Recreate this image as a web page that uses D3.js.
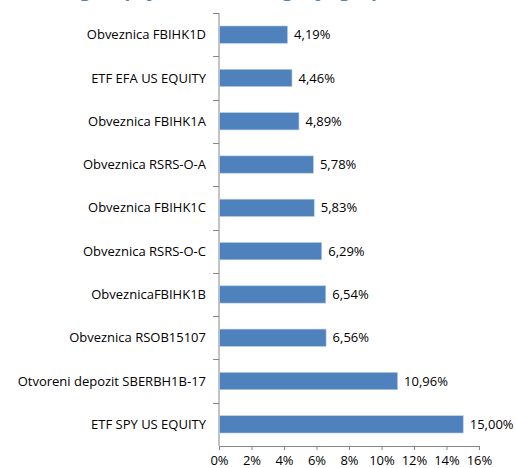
<!DOCTYPE html>
<html>
<head>
<meta charset="utf-8">
<script src="https://cdn.jsdelivr.net/npm/d3@7"></script>
<style>
  body { margin: 0; background: #fff; }
  svg { display: block; font-family: "Open Sans", "Liberation Sans", sans-serif; }
</style>
</head>
<body>
<div id="chart"></div>
<script>
const categories = [
    "Obveznica FBIHK1D",
    "ETF EFA US EQUITY",
    "Obveznica FBIHK1A",
    "Obveznica RSRS-O-A",
    "Obveznica FBIHK1C",
    "Obveznica RSRS-O-C",
    "ObveznicaFBIHK1B",
    "Obveznica RSOB15107",
    "Otvoreni depozit SBERBH1B-17",
    "ETF SPY US EQUITY"
];
const values = [4.19, 4.46, 4.89, 5.78, 5.83, 6.29, 6.54, 6.56, 10.96, 15.00];
const xTicks = [0, 2, 4, 6, 8, 10, 12, 14, 16];
const title = "Pregled pojedinačnih ulaganja grupe (učešće)";

const W = 516, H = 468;
const margin = { top: 13, right: 37, bottom: 22, left: 219 };
const width = W - margin.left - margin.right,
      height = H - margin.top - margin.bottom;

const root = d3.select("#chart").append("svg")
    .attr("width", W)
    .attr("height", H);

// title sits mostly above the visible area, only descenders show
root.append("text")
    .attr("x", 262)
    .attr("y", -4)
    .attr("text-anchor", "middle")
    .attr("fill", "#4F81BD")
    .style("font-weight", "bold")
    .style("font-size", "19px")
    .text(title);

const svg = root.append("g")
    .attr("transform", `translate(${margin.left}, ${margin.top})`);

let x = d3.scaleLinear()
    .domain([0, 16])
    .range([0, width]);

let y = d3.scaleBand()
    .domain(categories)
    .range([0, height])
    .paddingInner(0.6)
    .paddingOuter(0.3);

// band boundaries for the category ticks
let yb = d3.scaleBand().domain(categories).range([0, height]);

/* X-axis */
const xAxis = svg.append("g")
    .attr("transform", `translate(0, ${height})`)
    .call(d3.axisBottom(x).tickValues(xTicks).tickFormat(d => d + "%").tickSize(4).tickSizeOuter(0));
xAxis.select(".domain").attr("stroke", "#868686");
xAxis.selectAll(".tick line").attr("stroke", "#868686");
xAxis.selectAll("text")
    .attr("fill", "#000")
    .attr("dy", "0.9em")
    .style("font-size", "13px")
    .style("font-family", "Open Sans, sans-serif");

/* Y-axis */
svg.append("line")
    .attr("x1", 0).attr("x2", 0)
    .attr("y1", 0).attr("y2", height)
    .attr("stroke", "#868686");
svg.selectAll(".ytick")
    .data(categories)
    .enter()
    .append("line")
    .attr("x1", -6).attr("x2", 0)
    .attr("y1", d => Math.round(yb(d)) + 0.5)
    .attr("y2", d => Math.round(yb(d)) + 0.5)
    .attr("stroke", "#868686");

svg.selectAll(".cat")
    .data(categories)
    .enter()
    .append("text")
    .attr("x", -13)
    .attr("y", d => yb(d) + yb.bandwidth() / 2)
    .attr("dy", "0.35em")
    .attr("text-anchor", "end")
    .style("font-size", "13px")
    .attr("fill", "#000")
    .text(d => d);

svg.selectAll(".bar")
    .data(values)
    .enter()
    .append("rect")
    .attr("x", 0.5)
    .attr("y", (d, i) => y(categories[i]))
    .attr("width", d => x(d))
    .attr("height", y.bandwidth())
    .attr("fill", "#4F81BD")
    .attr("stroke", "#B9CDE5")
    .attr("stroke-width", 0.6);

svg.selectAll(".val")
    .data(values)
    .enter()
    .append("text")
    .attr("x", d => x(d) + 7)
    .attr("y", (d, i) => y(categories[i]) + y.bandwidth() / 2)
    .attr("dy", "0.35em")
    .style("font-size", "13px")
    .attr("fill", "#000")
    .text(d => d.toFixed(2).replace(".", ",") + "%");
</script>
</body>
</html>
